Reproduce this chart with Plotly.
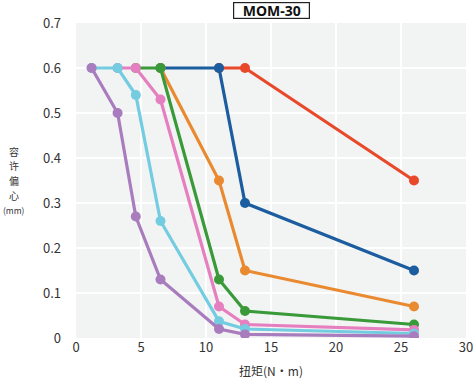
import plotly.graph_objects as go

torque = [1.2, 3.2, 4.6, 6.5, 11, 13, 26]

# Allowable eccentricity (mm) per series; None where the series has no point
red = [None, None, None, None, 0.6, 0.6, 0.35]
blue = [None, None, None, 0.6, 0.6, 0.30, 0.15]
orange = [None, None, None, 0.6, 0.35, 0.15, 0.07]
green = [None, None, 0.6, 0.6, 0.13, 0.06, 0.03]
pink = [None, 0.6, 0.6, 0.53, 0.07, 0.03, 0.018]
cyan = [0.6, 0.6, 0.54, 0.26, 0.037, 0.02, 0.01]
purple = [0.6, 0.5, 0.27, 0.13, 0.02, 0.008, 0.004]

x_ticks = [0, 5, 10, 15, 20, 25, 30]
y_ticks = [0, 0.1, 0.2, 0.3, 0.4, 0.5, 0.6, 0.7]
y_tick_text = ["0", "0.1", "0.2", "0.3", "0.4", "0.5", "0.6", "0.7"]
y_title_parts = ["容", "许", "偏", "心", "(mm)"]

series = [
    ("red", red, "#e8492b"),
    ("blue", blue, "#1c5d9f"),
    ("orange", orange, "#e98a30"),
    ("green", green, "#3a9a3a"),
    ("pink", pink, "#e67fbf"),
    ("cyan", cyan, "#74cce0"),
    ("purple", purple, "#a97cbe"),
]

fig = go.Figure()
for name, ys, col in series:
    xs = [x for x, y in zip(torque, ys) if y is not None]
    yv = [y for y in ys if y is not None]
    fig.add_trace(go.Scatter(
        x=xs, y=yv, mode="lines+markers", name=name,
        line=dict(color=col, width=3.2),
        marker=dict(color=col, size=10),
        showlegend=False,
    ))

font_family = "Noto Sans CJK SC, Noto Sans, sans-serif"

annotations = [
    dict(
        text="<b>MOM-30</b>", xref="paper", yref="paper", x=0.5, y=1,
        yshift=13, showarrow=False, xanchor="center", yanchor="middle",
        font=dict(size=14, color="#111111", family="Noto Sans, sans-serif"),
        width=75, height=15,
        bordercolor="#222222", borderwidth=1.2, borderpad=0,
        bgcolor="white",
    )
]
n = len(y_title_parts)
for i, part in enumerate(y_title_parts):
    is_unit = part.startswith("(")
    annotations.append(dict(
        text=part, xref="paper", yref="paper", x=0, y=0.5,
        xshift=-62, yshift=(n - 1) / 2 * 14.6 - i * 14.6,
        showarrow=False, xanchor="center", yanchor="middle",
        borderpad=0,
        font=dict(size=8.5 if is_unit else 10, color="#333333", family=font_family),
    ))

fig.update_layout(
    width=476, height=381,
    margin=dict(l=76, r=10, t=23, b=43),
    paper_bgcolor="white",
    plot_bgcolor="#f2f4f4",
    font=dict(family=font_family, color="#333333", size=13),
    xaxis=dict(
        range=[0, 30], tickvals=x_ticks, showgrid=True, gridcolor="white",
        gridwidth=1.5, zeroline=False, showline=False, ticks="",
        tickfont=dict(size=13, color="#333333"), automargin=False,
        title=dict(text="扭矩(N·m)", font=dict(size=12, color="#333333"), standoff=12),
        fixedrange=True,
    ),
    yaxis=dict(
        range=[0, 0.7], tickvals=y_ticks, ticktext=y_tick_text, showgrid=True,
        gridcolor="white", gridwidth=1.5, zeroline=False, showline=False, ticks="",
        tickfont=dict(size=13, color="#333333"), ticklabelstandoff=14,
        automargin=False, fixedrange=True,
    ),
    annotations=annotations,
)

fig.write_html(
    "out.html",
    config={"displayModeBar": False, "staticPlot": True},
    post_script="document.body.style.margin='0';document.body.style.padding='0';",
)
